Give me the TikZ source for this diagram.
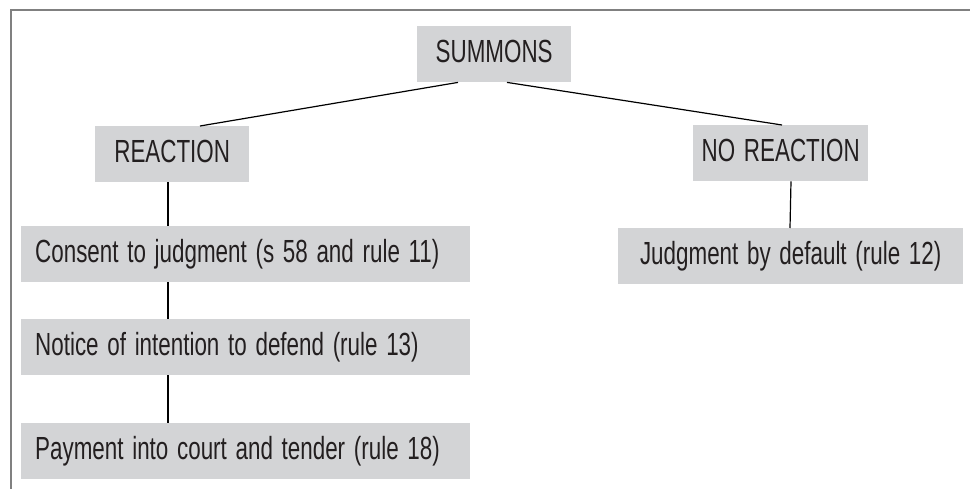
\documentclass[tikz,border=0pt]{standalone}
\usepackage{fontspec}
\setmainfont{Liberation Sans}[FakeStretch=0.70, WordSpace=1.4]
\usetikzlibrary{calc}
\definecolor{boxgray}{RGB}{211,212,214}
\definecolor{framegray}{RGB}{128,128,128}
\definecolor{inkgray}{RGB}{35,31,32}
\newcommand{\steptext}[1]{\makebox[421pt][l]{#1}}
\begin{document}
\begin{tikzpicture}[x=1pt,y=-1pt,
  box/.style={fill=boxgray, draw=none, anchor=north west, inner sep=0pt,
    minimum height=56pt, text height=23pt, text depth=7pt,
    font=\fontsize{32}{34}\selectfont, text=inkgray},
  cbox/.style={box},
  lbox/.style={box, inner xsep=14pt},
  link/.style={draw=black, line width=1.2pt}]
  % page extent
  \useasboundingbox (0,0) rectangle (970,489);
  % frame on top and left
  \draw[framegray, line width=2pt] (10.5,489) -- (10.5,10.5) -- (970,10.5);

  % boxes
  \node[cbox, minimum width=154pt] (summons) at (417,26) {SUMMONS};
  \node[cbox, minimum width=154pt] (reaction) at (95,126) {REACTION};
  \node[cbox, minimum width=175pt] (noreaction) at (693,125) {NO REACTION};
  \node[lbox] (consent) at (21,226) {\steptext{Consent to judgment (s 58 and rule 11)}};
  \node[lbox] (notice) at (21,319) {\steptext{Notice of intention to defend (rule 13)}};
  \node[lbox] (payment) at (21,423) {\steptext{Payment into court and tender (rule 18)}};
  \node[cbox, minimum width=345pt] (default) at (618,228) {Judgment by default (rule 12)};

  % connectors
  \draw[link] ($(summons.south west)+(41,0)$) -- ($(reaction.north west)+(105,0)$);
  \draw[link] ($(summons.south west)+(90,0)$) -- ($(noreaction.north west)+(89,0)$);
  \draw[link] ($(reaction.south west)+(73,0)$) -- ($(consent.north west)+(147,0)$);
  \draw[link] ($(consent.south west)+(147,0)$) -- ($(notice.north west)+(147,0)$);
  \draw[link] ($(notice.south west)+(147,0)$) -- ($(payment.north west)+(147,0)$);
  \draw[link] ($(noreaction.south west)+(98,0)$) -- ($(default.north west)+(172,0)$);
\end{tikzpicture}
\end{document}
